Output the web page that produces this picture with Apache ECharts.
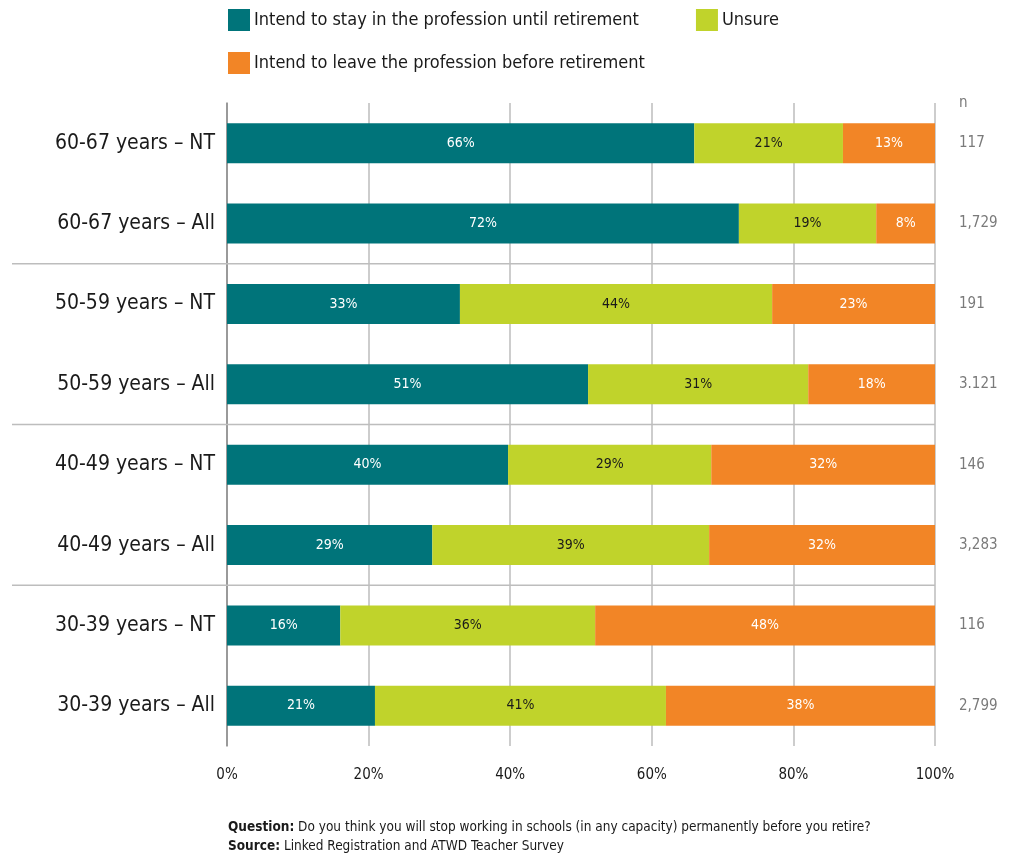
<!DOCTYPE html>
<html>
<head>
<meta charset="utf-8">
<script src="https://cdn.jsdelivr.net/npm/echarts@6/dist/echarts.min.js"></script>
<style>
  html, body { margin: 0; padding: 0; background: #fff; }
  #chart { width: 1010px; height: 857px; }
</style>
</head>
<body>
<div id="chart"></div>
<script>
// Age groups, top to bottom
const categories = [
  '60-67 years – NT', '60-67 years – All',
  '50-59 years – NT', '50-59 years – All',
  '40-49 years – NT', '40-49 years – All',
  '30-39 years – NT', '30-39 years – All'
];
// Share of respondents (%) per response
const stayValues   = [66.0, 72.3, 32.9, 51.0, 39.7, 29.0, 16.0, 20.9];
const unsureValues = [21.0, 19.4, 44.1, 31.1, 28.7, 39.1, 36.0, 41.1];
const leaveValues  = [13.0,  8.3, 23.0, 17.9, 31.6, 31.9, 48.0, 38.0];
// Respondent counts
const nValues = ['117', '1,729', '191', '3.121', '146', '3,283', '116', '2,799'];
const seriesNames = [
  'Intend to stay in the profession until retirement',
  'Unsure',
  'Intend to leave the profession before retirement'
];

const FONT = '"DejaVu Sans Condensed", "Liberation Sans Narrow", sans-serif';
const TEAL = '#00747A', GREEN = '#C0D32B', ORANGE = '#F28526';

const chart = echarts.init(document.getElementById('chart'));

function barSeries(name, data, color, labelColor) {
  return {
    name: name,
    type: 'bar',
    stack: 'total',
    data: data,
    barWidth: 40,
    itemStyle: { color: color },
    label: {
      show: true,
      position: 'inside',
      color: labelColor,
      fontFamily: FONT,
      fontSize: 14,
      formatter: p => Math.round(p.value) + '%'
    },
    emphasis: { disabled: true }
  };
}

const legendText = { fontFamily: FONT, fontSize: 18, color: '#1a1a1a', padding: [0, 0, 0, -1] };

const option = {
  animation: false,
  textStyle: { fontFamily: FONT },
  legend: [
    {
      data: [seriesNames[0], seriesNames[1]],
      left: 228, top: 9, padding: 0,
      itemWidth: 22, itemHeight: 22, itemGap: 57,
      icon: 'rect',
      selectedMode: false,
      textStyle: legendText
    },
    {
      data: [seriesNames[2]],
      left: 228, top: 52, padding: 0,
      itemWidth: 22, itemHeight: 22,
      icon: 'rect',
      selectedMode: false,
      textStyle: legendText
    }
  ],
  grid: { left: 227, right: 75, top: 103, bottom: 111, containLabel: false },
  xAxis: {
    type: 'value',
    min: 0, max: 100, interval: 20,
    axisLine: { show: false },
    axisTick: { show: false },
    axisLabel: {
      formatter: '{value}%',
      color: '#1a1a1a',
      fontFamily: FONT,
      fontSize: 15,
      margin: 22
    },
    splitLine: { show: true, lineStyle: { color: '#bdbdbd', width: 1.5 } }
  },
  yAxis: [
    {
      type: 'category',
      data: categories,
      inverse: true,
      axisLine: { show: true, lineStyle: { color: '#8a8a8a', width: 1.5 } },
      axisTick: { show: false },
      axisLabel: {
        color: '#1a1a1a',
        fontFamily: FONT,
        fontSize: 21,
        margin: 12
      }
    },
    {
      type: 'category',
      data: nValues,
      inverse: true,
      position: 'right',
      axisLine: { show: false },
      axisTick: { show: false },
      axisLabel: {
        color: '#7a7a7a',
        fontFamily: FONT,
        fontSize: 15,
        align: 'left',
        margin: 24
      }
    }
  ],
  series: [
    barSeries(seriesNames[0], stayValues, TEAL, '#ffffff'),
    barSeries(seriesNames[1], unsureValues, GREEN, '#1a1a1a'),
    barSeries(seriesNames[2], leaveValues, ORANGE, '#ffffff')
  ]
};

chart.setOption(option);

// Group separators between the age bands, plus the "n" column header and footnote
const xLeftEdge = 12;
const xRight = chart.convertToPixel({ xAxisIndex: 0 }, 100);
const graphics = [];
[1, 3, 5].forEach(i => {
  const y = (chart.convertToPixel({ yAxisIndex: 0 }, categories[i]) +
             chart.convertToPixel({ yAxisIndex: 0 }, categories[i + 1])) / 2;
  graphics.push({
    type: 'line',
    shape: { x1: xLeftEdge, y1: y, x2: xRight, y2: y },
    style: { stroke: '#bdbdbd', lineWidth: 1.5 },
    z: 1
  });
});
graphics.push({
  type: 'text',
  left: 959, top: 96,
  style: { text: 'n', fill: '#7a7a7a', font: '15px ' + FONT }
});
graphics.push({
  type: 'text',
  left: 228, top: 818,
  style: {
    text: '{b|Question:} Do you think you will stop working in schools (in any capacity) permanently before you retire?\n{b|Source:} Linked Registration and ATWD Teacher Survey',
    fill: '#1a1a1a',
    font: '13.5px ' + FONT,
    lineHeight: 19,
    rich: {
      b: { fontWeight: 'bold', fontFamily: FONT, fontSize: 13.5, fill: '#1a1a1a' }
    }
  }
});
chart.setOption({ graphic: graphics });
</script>
</body>
</html>
